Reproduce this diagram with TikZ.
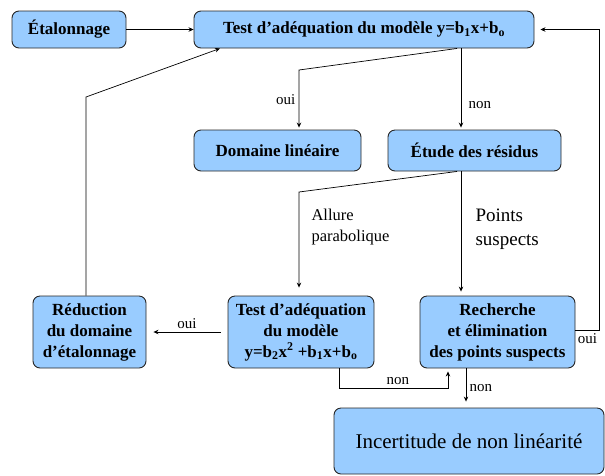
\documentclass[tikz,border=0pt]{standalone}
\usepackage{fontspec}
\setmainfont{LiberationSerif}[Extension=.ttf, UprightFont=*-Regular, BoldFont=*-Bold, ItalicFont=*-Italic, BoldItalicFont=*-BoldItalic]
\usetikzlibrary{positioning}
\usetikzlibrary{arrows.meta}
\usetikzlibrary{calc}
\usepackage{xcolor}
\definecolor{boxblue}{HTML}{99CCFF}

\begin{document}
\begin{tikzpicture}[
		x=1pt, y=-1pt,
		% box and arrow styles
		block/.style={draw=black!85, rounded corners=7pt, fill=boxblue, line width=0.9pt, align=center, inner sep=2pt, font=\fontsize{17}{21}\selectfont\bfseries},
		arrow/.style={-{Stealth[length=5pt,width=4.5pt]}, line width=0.7pt},
		lbl/.style={font=\fontsize{15}{17}\selectfont},
		]
		\useasboundingbox (0,0) rectangle (605,475);

		% Boxes
		\node[block, minimum width=114pt, minimum height=37pt] (etalonnage) at (69,29.5) {Étalonnage};
		\node[block, minimum width=340pt, minimum height=37pt] (test) at (364,29.5) {Test d’adéquation du modèle y=b\textsubscript{1}x+b\textsubscript{o}};
		\node[block, minimum width=167pt, minimum height=41pt] (domaine) at (277.5,150.5) {Domaine linéaire};
		\node[block, minimum width=173pt, minimum height=41pt] (residus) at (474.5,150.5) {Étude des résidus};
		\node[block, minimum width=113pt, minimum height=72pt] (reduction) at (89.5,332) {Réduction\\du domaine\\d’étalonnage};
		\node[block, minimum width=146pt, minimum height=72pt] (testpara) at (301,332) {Test d’adéquation\\du modèle\\y=b\textsubscript{2}x\textsuperscript{2} +b\textsubscript{1}x+b\textsubscript{o}};
		\node[block, minimum width=155pt, minimum height=72pt] (recherche) at (497.5,332) {Recherche\\et élimination\\des points suspects};
		\node[block, minimum width=270pt, minimum height=66pt, font=\fontsize{21}{25}\selectfont] (incertitude) at (469,441) {Incertitude de non linéarité};

		% Corner points
		\coordinate (k1) at (299,70);
		\coordinate (k2) at (299,192);
		\coordinate (k3) at (86,97);

		% Main flow
		\draw[arrow] (etalonnage) -- (test);
		\draw[arrow, shorten >=2pt] ([xshift=93pt]test.south) -- (k1) -- node[lbl, left]{oui} (k1 |- domaine.north);
		\draw[arrow, shorten >=2pt] ([xshift=97pt]test.south) -- node[lbl, right=4pt, pos=0.7]{non} ([xshift=97pt]test.south |- residus.north);
		\draw[arrow, shorten >=8pt] ([xshift=-17.5pt]residus.south) -- (k2) -- (k2 |- testpara.north);
		\draw[arrow, shorten >=4pt] ([xshift=-13.5pt]residus.south) -- ([xshift=-13.5pt]residus.south |- recherche.north);
		\node[lbl, font=\fontsize{16.5}{21}\selectfont, align=left, anchor=west] (allure) at (308,227) {Allure\\parabolique};
		\node[lbl, font=\fontsize{19}{24}\selectfont, align=left, anchor=west] (suspects) at (472,229) {Points\\suspects};

		% Lower loops
		\draw[arrow] ([xshift=-3.5pt]reduction.north) -- (k3) -- ([xshift=-144pt]test.south);
		\draw[arrow, shorten <=7pt, shorten >=7pt] (testpara) -- node[lbl, above]{oui} (reduction);
		\draw[arrow, shorten >=3pt] ([xshift=38pt]testpara.south) -- ++(0,20) -| node[lbl, above, pos=0.27]{non} ([xshift=-49.5pt]recherche.south);
		\draw[arrow, shorten >=6pt] ([xshift=-31.5pt]recherche.south) -- node[lbl, right]{non} ([xshift=-31.5pt]recherche.south |- incertitude.north);
		\draw[arrow, shorten >=6pt] ([yshift=2pt]recherche.east) -- node[lbl, below]{oui} ++(24,0) |- (test.east);

	\end{tikzpicture}
\end{document}
